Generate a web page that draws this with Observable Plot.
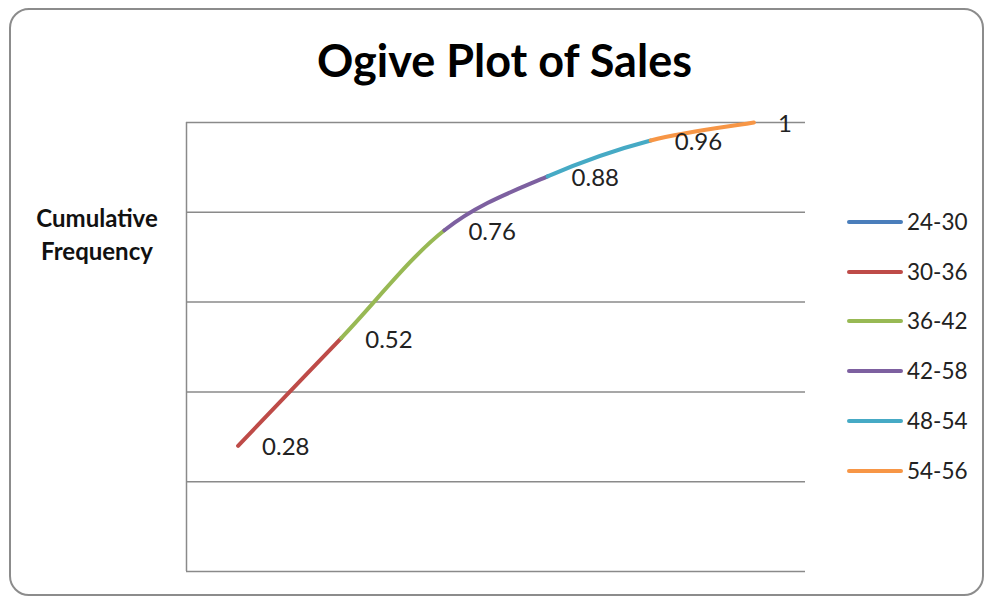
<!DOCTYPE html>
<html>
<head>
<meta charset="utf-8">
<script src="https://cdn.jsdelivr.net/npm/d3@7"></script>
<script src="https://cdn.jsdelivr.net/npm/@observablehq/plot@0.6"></script>
<style>
  html, body { margin: 0; padding: 0; background: #fff; }
  #wrap { position: relative; width: 989px; height: 598px; overflow: hidden; font-family: Lato, "Open Sans", sans-serif; }
  #border { position: absolute; left: 9px; top: 8px; width: 975px; height: 588px; border: 2px solid #8c8c8c; border-radius: 20px; box-sizing: border-box; }
  #chart { position: absolute; left: 0; top: 0; }
  #title { position: absolute; left: 0; width: 1009px; top: 32px; text-align: center; font-weight: bold; font-size: 45px; color: #000; line-height: 56px; }
  #ylabel { position: absolute; left: 7px; width: 180px; top: 201px; text-align: center; font-weight: bold; font-size: 24px; line-height: 33px; color: #111; }
  #legend { position: absolute; left: 847px; top: 197px; }
  .item { display: flex; align-items: center; height: 49.8px; }
  .swatch { width: 56px; height: 4px; border-radius: 2px; margin-right: 4px; }
  .lab { font-size: 22.5px; color: #222; line-height: 28px; }
</style>
</head>
<body>
<div id="wrap">
  <div id="border"></div>
  <div id="chart"></div>
  <div id="title">Ogive Plot of Sales</div>
  <div id="ylabel">Cumulative<br>Frequency</div>
  <div id="legend"></div>
</div>
<script>
// Data
const classes = ["24-30", "30-36", "36-42", "42-58", "48-54", "54-56"];
const cumulative = [0.28, 0.52, 0.76, 0.88, 0.96, 1];
const colors = ["#4A7EBB", "#BE4B48", "#98B954", "#7D60A0", "#46AAC5", "#F79646"];
const yTicks = [0, 0.2, 0.4, 0.6, 0.8, 1];

// Points table
const points = classes.map((c, i) => ({ idx: i, cls: c, value: cumulative[i] }));

// Segment rows: series k is drawn from point k-1 to point k, with neighbouring
// points included so an "open" Catmull-Rom curve draws a smooth middle piece.
const n = points.length;
const segRows = [];
for (let k = 1; k < n; k++) {
  const ids = [Math.max(k - 2, 0), k - 1, k, Math.min(k + 1, n - 1)];
  ids.forEach((j, order) => segRows.push({ series: classes[k], order, idx: points[j].idx, value: points[j].value }));
}

const plot = Plot.plot({
  width: 989,
  height: 598,
  marginLeft: 186,
  marginRight: 184,
  marginTop: 122,
  marginBottom: 27,
  x: { domain: [-0.5, classes.length - 0.5], axis: null },
  y: { domain: [0, 1], axis: null },
  color: { domain: classes, range: colors },
  style: { background: "transparent", fontFamily: "Lato, 'Open Sans', sans-serif" },
  marks: [
    Plot.ruleY(yTicks, { stroke: "#8a8a8a", strokeWidth: 1.5 }),
    Plot.ruleX([-0.5], { y1: 0, y2: 1, stroke: "#8a8a8a", strokeWidth: 1.5 }),
    Plot.line(segRows, {
      x: "idx", y: "value", z: "series", stroke: "series",
      strokeWidth: 4, curve: d3.curveCardinalOpen.tension(0), strokeLinecap: "round"
    }),
    Plot.text(points, {
      x: "idx", y: "value", text: d => String(d.value),
      dx: 24, dy: 2, textAnchor: "start", fontSize: 24, fill: "#222"
    })
  ]
});
document.getElementById("chart").appendChild(plot);

// Legend
const legend = document.getElementById("legend");
classes.forEach((c, i) => {
  const item = document.createElement("div");
  item.className = "item";
  const sw = document.createElement("div");
  sw.className = "swatch";
  sw.style.background = colors[i];
  const lab = document.createElement("span");
  lab.className = "lab";
  lab.textContent = c;
  item.appendChild(sw);
  item.appendChild(lab);
  legend.appendChild(item);
});
</script>
</body>
</html>
